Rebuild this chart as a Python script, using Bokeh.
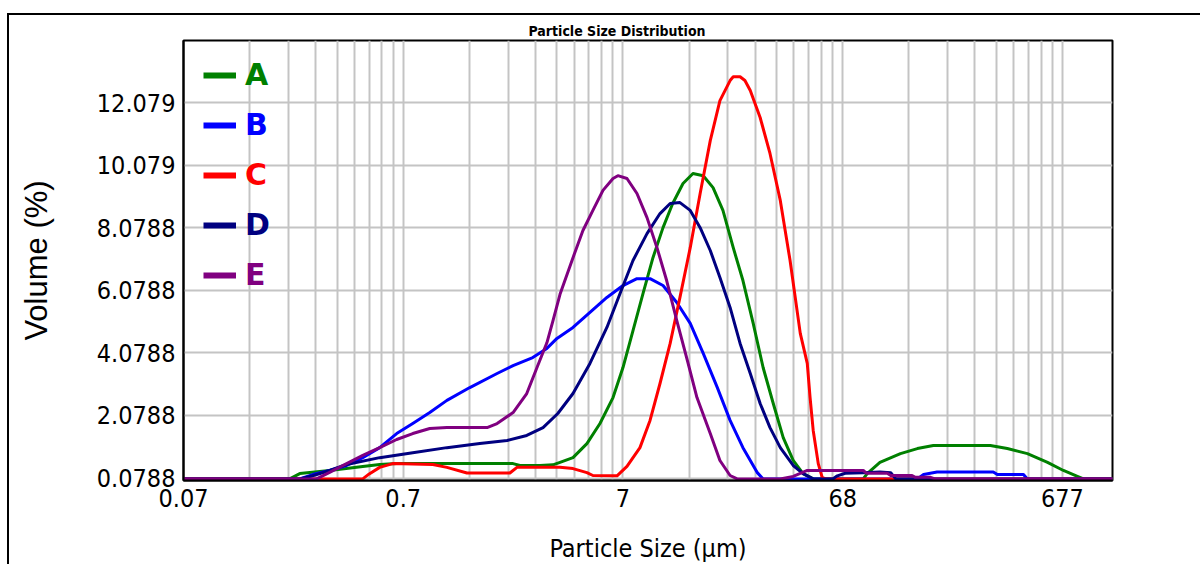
from bokeh.plotting import figure
from bokeh.models import ColumnDataSource, FixedTicker, Legend, LegendItem, Range1d
from bokeh.embed import file_html
from bokeh.resources import INLINE

# Particle size (µm) and volume (%) for each sample
a_size = [0.0677, 0.206, 0.229, 0.313, 0.443, 0.529, 0.632, 2.14, 2.30, 2.84, 3.25, 3.50,
          4.01, 4.64, 5.32, 6.10, 6.77, 7.52, 8.35, 9.27, 10.3, 11.4, 12.7, 14.1, 15.7, 17.4,
          19.3, 21.5, 23.8, 26.5, 29.4, 32.7, 36.3, 40.3, 44.7, 49.7, 83.9, 87.5, 100, 124,
          148, 175, 318, 380, 469, 579, 684, 792, 844, 1144]
a_vol = [0.05, 0.05, 0.22, 0.32, 0.45, 0.51, 0.54, 0.54, 0.48, 0.48, 0.50, 0.58,
         0.73, 1.18, 1.82, 2.65, 3.61, 4.79, 5.97, 7.12, 8.08, 8.85, 9.49, 9.81, 9.74, 9.36,
         8.63, 7.44, 6.39, 5.02, 3.61, 2.46, 1.37, 0.64, 0.22, 0.05, 0.05, 0.22, 0.58, 0.86,
         1.02, 1.12, 1.12, 1.02, 0.86, 0.58, 0.32, 0.13, 0.05, 0.05]

b_size = [0.0677, 0.229, 0.262, 0.313, 0.374, 0.443, 0.529, 0.632, 0.748, 0.894,
          1.07, 1.36, 1.81, 2.14, 2.63, 3.05, 3.39, 4.01, 4.79, 5.72,
          6.77, 7.84, 8.99, 10.3, 11.9, 13.7, 15.7, 18.2, 20.8, 23.8,
          27.6, 29.4, 148, 158, 182, 328, 342, 450, 469, 1144]
b_vol = [0.05, 0.05, 0.19, 0.32, 0.48, 0.73, 1.05, 1.50, 1.82, 2.17,
         2.56, 2.97, 3.42, 3.67, 3.93, 4.22, 4.54, 4.89, 5.37, 5.85,
         6.23, 6.45, 6.45, 6.23, 5.69, 5.02, 4.06, 2.97, 1.92, 1.05,
         0.26, 0.05, 0.05, 0.19, 0.27, 0.27, 0.19, 0.19, 0.05, 0.05]

c_size = [0.0677, 0.443, 0.474, 0.529, 0.606, 0.923, 1.07, 1.32, 2.07, 2.23,
          3.50, 4.01, 4.64, 4.94, 6.10, 6.36, 7.06, 8.09, 8.99, 9.98,
          11.1, 12.3, 13.7, 15.2, 16.9, 18.7, 20.8, 21.5, 23.1, 24.3,
          25.7, 28.5, 31.6, 35.2, 39.0, 43.4, 46.7, 48.1, 49.7, 52.4,
          54.6, 56.5, 1144]
c_vol = [0.05, 0.05, 0.21, 0.42, 0.54, 0.51, 0.42, 0.24, 0.24, 0.42,
         0.42, 0.38, 0.25, 0.16, 0.15, 0.15, 0.45, 1.05, 1.92, 3.10,
         4.38, 5.85, 7.44, 9.17, 10.86, 12.14, 12.78, 12.9, 12.9, 12.78,
         12.46, 11.6, 10.45, 8.95, 7.03, 4.70, 3.74, 2.65, 1.60, 0.54,
         0.10, 0.05, 0.05]

d_size = [0.0677, 0.229, 0.262, 0.313, 0.374, 0.529, 0.748, 1.07, 1.51, 2.01,
          2.47, 2.93, 3.42, 4.01, 4.79, 5.72, 6.56, 7.52, 8.71, 9.98,
          11.1, 12.3, 13.7, 15.2, 16.9, 18.7, 20.8, 23.1, 25.7, 28.5,
          31.6, 35.2, 40.3, 44.7, 49.7, 61.0, 64.0, 69.5, 84.0, 100,
          112, 118, 1144]
d_vol = [0.05, 0.05, 0.15, 0.32, 0.51, 0.73, 0.89, 1.05, 1.18, 1.28,
         1.44, 1.69, 2.14, 2.78, 3.74, 4.89, 5.97, 7.03, 7.89, 8.53,
         8.85, 8.88, 8.63, 8.08, 7.35, 6.49, 5.53, 4.38, 3.42, 2.46,
         1.69, 1.05, 0.48, 0.22, 0.05, 0.05, 0.15, 0.23, 0.25, 0.27,
         0.25, 0.05, 0.05]

e_size = [0.0677, 0.273, 0.313, 0.374, 0.443, 0.529, 0.632, 0.748, 0.894, 1.07,
          1.63, 1.81, 2.14, 2.47, 2.75, 3.05, 3.25, 3.50, 4.01, 4.45,
          4.94, 5.49, 6.10, 6.42, 7.06, 7.84, 8.71, 9.67, 10.7, 11.9,
          13.3, 14.7, 16.9, 18.7, 20.8, 22.4, 35.2, 40.3, 46.7, 84.0,
          87.0, 108, 112, 140, 145, 170, 178, 1144]
e_vol = [0.05, 0.05, 0.26, 0.54, 0.80, 1.05, 1.31, 1.50, 1.66, 1.69,
         1.69, 1.82, 2.17, 2.78, 3.61, 4.40, 5.10, 5.95, 7.12, 7.99,
         8.63, 9.27, 9.65, 9.74, 9.65, 9.17, 8.40, 7.44, 6.39, 5.11,
         3.83, 2.65, 1.50, 0.64, 0.16, 0.05, 0.05, 0.13, 0.32, 0.32,
         0.23, 0.23, 0.16, 0.16, 0.10, 0.10, 0.05, 0.05]

series_names = ["A", "B", "C", "D", "E"]
series_colors = ["#008000", "#0000ff", "#ff0000", "#000080", "#800080"]

# Axis ticks and their printed labels
x_ticks = [0.0677, 0.677, 6.77, 67.7, 677]
x_labels = ["0.07", "0.7", "7", "68", "677"]
y_ticks = [0.0788, 2.0788, 4.0788, 6.0788, 8.0788, 10.0788, 12.0788]
y_labels = ["0.0788", "2.0788", "4.0788", "6.0788", "8.0788", "10.079", "12.079"]

NARROW = "'DejaVu Sans Condensed', 'Liberation Sans Narrow', sans-serif"

p = figure(width=1193, height=551, x_axis_type="log",
           x_range=Range1d(0.0677, 1144), y_range=Range1d(0, 14.06),
           output_backend="svg", toolbar_location=None,
           min_border_left=174, min_border_right=90,
           min_border_top=25, min_border_bottom=86,
           title="Particle Size Distribution")
p.styles = {"margin-left": "7px", "margin-top": "13px",
            "border-top": "2px solid black", "border-left": "2px solid black"}

# A range far above the data: swatch renderers attached to it stay off-frame
p.extra_y_ranges = {"swatch": Range1d(1000, 1001)}

p.background_fill_color = "white"
p.border_fill_color = "white"
p.outline_line_color = "black"
p.outline_line_width = 2

p.title.text_font = NARROW
p.title.text_font_style = "bold"
p.title.text_font_size = "14px"
p.title.text_color = "black"
p.title.align = "left"
p.title.offset = 345
p.title.standoff = 4

# Log decades with 2..9 minor lines in between
x_minor = [t * m for t in x_ticks for m in range(2, 10) if t * m <= 1144]
p.xaxis.ticker = FixedTicker(ticks=x_ticks, minor_ticks=x_minor)
p.xaxis.major_label_overrides = dict(zip(x_ticks, x_labels))
p.yaxis.ticker = FixedTicker(ticks=y_ticks)
p.yaxis.major_label_overrides = dict(zip(y_ticks, y_labels))

for ax in (p.xaxis[0], p.yaxis[0]):
    ax.major_tick_in = 0
    ax.major_tick_out = 0
    ax.minor_tick_in = 0
    ax.minor_tick_out = 0
    ax.axis_line_color = "black"
    ax.axis_line_width = 2
    ax.major_label_text_font = NARROW
    ax.major_label_text_font_size = "25px"
    ax.major_label_text_color = "black"
    ax.axis_label_text_font_style = "normal"
    ax.axis_label_text_color = "black"

p.xaxis.major_label_standoff = 8
p.xaxis.axis_label = "Particle Size (µm)"
p.xaxis.axis_label_text_font = NARROW
p.xaxis.axis_label_text_font_size = "25px"
p.xaxis.axis_label_standoff = 24

p.yaxis.major_label_standoff = 8
p.yaxis.axis_label = "Volume (%)"
p.yaxis.axis_label_text_font = "'Liberation Sans', Arial, sans-serif"
p.yaxis.axis_label_text_font_size = "31px"
p.yaxis.axis_label_standoff = 40

p.xgrid.grid_line_color = "#c4c4c4"
p.xgrid.grid_line_width = 2
p.xgrid.minor_grid_line_color = "#c4c4c4"
p.xgrid.minor_grid_line_width = 2
p.ygrid.grid_line_color = "#c4c4c4"
p.ygrid.grid_line_width = 2

sizes = [a_size, b_size, c_size, d_size, e_size]
vols = [a_vol, b_vol, c_vol, d_vol, e_vol]
sources = []
for xs, ys, color in zip(sizes, vols, series_colors):
    src = ColumnDataSource(data=dict(size=xs, vol=ys))
    sources.append(src)
    p.line(x="size", y="vol", source=src, line_color=color, line_width=3,
           line_join="round")

# One legend block per sample so each label takes its series colour;
# the thick swatch renderer lives on the off-frame range
for i, (name, color, src) in enumerate(zip(series_names, series_colors, sources)):
    swatch = p.line(x="size", y="vol", source=src, line_color=color, line_width=6,
                    y_range_name="swatch")
    leg = Legend(items=[LegendItem(label=name, renderers=[swatch])],
                 location=(20, 387.5 - 50 * i),
                 glyph_width=33, glyph_height=36, label_height=36,
                 label_standoff=9, padding=0, margin=0, spacing=0,
                 border_line_alpha=0, background_fill_alpha=0,
                 label_text_font="DejaVu Sans", label_text_font_style="bold",
                 label_text_font_size="30px", label_text_color=color)
    p.add_layout(leg)

open("out.html", "w").write(file_html(p, INLINE))
